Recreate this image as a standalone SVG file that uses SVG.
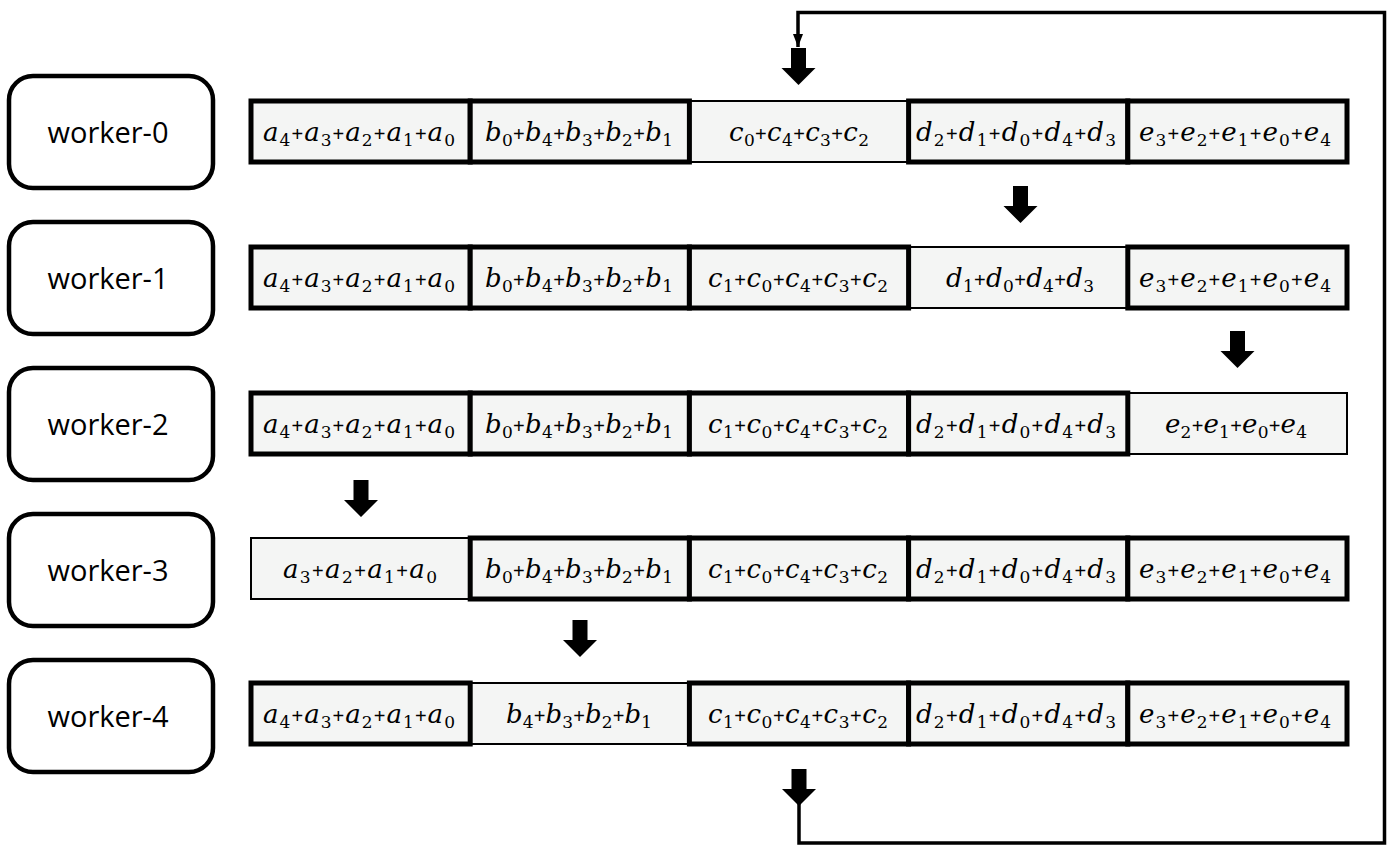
<svg xmlns="http://www.w3.org/2000/svg" xmlns:xlink="http://www.w3.org/1999/xlink" width="1392" height="850" viewBox="0 0 1392 850">
<style>
.wbox{fill:#fff;stroke:#000;stroke-width:4.5}
.wlab{font-family:"Open Sans","Noto Sans",sans-serif;font-size:29px;fill:#000;text-anchor:middle}
.ck{fill:#f4f5f4;stroke:#000;stroke-width:5}
.cn{fill:#f4f5f4;stroke:#000;stroke-width:2}
.m{font-family:"DejaVu Serif","Liberation Serif",serif;font-style:italic;font-size:26px;fill:#000;text-anchor:middle}
.s{font-style:normal;font-size:17px}
.p{font-family:"Liberation Sans",sans-serif;font-style:normal;font-size:20px}
.blk{fill:#000}
.loop{fill:none;stroke:#000;stroke-width:3.5}
</style>
<defs>
<path id="barrow" d="M-7.5,-37 H7.5 V-17 H17 L0,0 L-17,-17 H-7.5 Z"/>
<marker id="tri" markerUnits="userSpaceOnUse" markerWidth="14" markerHeight="10" refX="13" refY="5" orient="auto">
<path d="M0,0 L13,5 L0,10 Z" fill="#000"/>
</marker>
</defs>

<g id="worker-0"><rect class="wbox" x="9" y="76" width="204" height="112" rx="24"/><text class="wlab" x="108" y="143">worker-0</text></g>
<g id="worker-1"><rect class="wbox" x="9" y="222" width="204" height="112" rx="24"/><text class="wlab" x="108" y="289">worker-1</text></g>
<g id="worker-2"><rect class="wbox" x="9" y="368" width="204" height="112" rx="24"/><text class="wlab" x="108" y="435">worker-2</text></g>
<g id="worker-3"><rect class="wbox" x="9" y="514" width="204" height="112" rx="24"/><text class="wlab" x="108" y="581">worker-3</text></g>
<g id="worker-4"><rect class="wbox" x="9" y="660" width="204" height="112" rx="24"/><text class="wlab" x="108" y="727">worker-4</text></g>

<!-- Row 0 -->
<g id="row-0">
<g id="r0-c"><rect class="cn" x="689.4" y="101" width="219.2" height="61"/>
<text class="m" x="799" y="141" textLength="140" lengthAdjust="spacing">c<tspan class="s" dy="5">0</tspan><tspan class="p" dy="-5">+</tspan>c<tspan class="s" dy="5">4</tspan><tspan class="p" dy="-5">+</tspan>c<tspan class="s" dy="5">3</tspan><tspan class="p" dy="-5">+</tspan>c<tspan class="s" dy="5">2</tspan></text></g>
<g id="r0-a"><rect class="ck" x="251" y="101" width="219.2" height="61"/>
<text class="m" x="359" y="141" textLength="192" lengthAdjust="spacing">a<tspan class="s" dy="5">4</tspan><tspan class="p" dy="-5">+</tspan>a<tspan class="s" dy="5">3</tspan><tspan class="p" dy="-5">+</tspan>a<tspan class="s" dy="5">2</tspan><tspan class="p" dy="-5">+</tspan>a<tspan class="s" dy="5">1</tspan><tspan class="p" dy="-5">+</tspan>a<tspan class="s" dy="5">0</tspan></text></g>
<g id="r0-b"><rect class="ck" x="470.2" y="101" width="219.2" height="61"/>
<text class="m" x="579" y="141" textLength="188" lengthAdjust="spacing">b<tspan class="s" dy="5">0</tspan><tspan class="p" dy="-5">+</tspan>b<tspan class="s" dy="5">4</tspan><tspan class="p" dy="-5">+</tspan>b<tspan class="s" dy="5">3</tspan><tspan class="p" dy="-5">+</tspan>b<tspan class="s" dy="5">2</tspan><tspan class="p" dy="-5">+</tspan>b<tspan class="s" dy="5">1</tspan></text></g>
<g id="r0-d"><rect class="ck" x="908.6" y="101" width="219.2" height="61"/>
<text class="m" x="1016" y="141" textLength="200" lengthAdjust="spacing">d<tspan class="s" dy="5">2</tspan><tspan class="p" dy="-5">+</tspan>d<tspan class="s" dy="5">1</tspan><tspan class="p" dy="-5">+</tspan>d<tspan class="s" dy="5">0</tspan><tspan class="p" dy="-5">+</tspan>d<tspan class="s" dy="5">4</tspan><tspan class="p" dy="-5">+</tspan>d<tspan class="s" dy="5">3</tspan></text></g>
<g id="r0-e"><rect class="ck" x="1127.8" y="101" width="219.2" height="61"/>
<text class="m" x="1235" y="141" textLength="192" lengthAdjust="spacing">e<tspan class="s" dy="5">3</tspan><tspan class="p" dy="-5">+</tspan>e<tspan class="s" dy="5">2</tspan><tspan class="p" dy="-5">+</tspan>e<tspan class="s" dy="5">1</tspan><tspan class="p" dy="-5">+</tspan>e<tspan class="s" dy="5">0</tspan><tspan class="p" dy="-5">+</tspan>e<tspan class="s" dy="5">4</tspan></text></g>
</g>

<!-- Row 1 -->
<g id="row-1">
<g id="r1-d"><rect class="cn" x="908.6" y="247" width="219.2" height="61"/>
<text class="m" x="1020" y="287" textLength="148" lengthAdjust="spacing">d<tspan class="s" dy="5">1</tspan><tspan class="p" dy="-5">+</tspan>d<tspan class="s" dy="5">0</tspan><tspan class="p" dy="-5">+</tspan>d<tspan class="s" dy="5">4</tspan><tspan class="p" dy="-5">+</tspan>d<tspan class="s" dy="5">3</tspan></text></g>
<g id="r1-a"><rect class="ck" x="251" y="247" width="219.2" height="61"/>
<text class="m" x="359" y="287" textLength="192" lengthAdjust="spacing">a<tspan class="s" dy="5">4</tspan><tspan class="p" dy="-5">+</tspan>a<tspan class="s" dy="5">3</tspan><tspan class="p" dy="-5">+</tspan>a<tspan class="s" dy="5">2</tspan><tspan class="p" dy="-5">+</tspan>a<tspan class="s" dy="5">1</tspan><tspan class="p" dy="-5">+</tspan>a<tspan class="s" dy="5">0</tspan></text></g>
<g id="r1-b"><rect class="ck" x="470.2" y="247" width="219.2" height="61"/>
<text class="m" x="579" y="287" textLength="188" lengthAdjust="spacing">b<tspan class="s" dy="5">0</tspan><tspan class="p" dy="-5">+</tspan>b<tspan class="s" dy="5">4</tspan><tspan class="p" dy="-5">+</tspan>b<tspan class="s" dy="5">3</tspan><tspan class="p" dy="-5">+</tspan>b<tspan class="s" dy="5">2</tspan><tspan class="p" dy="-5">+</tspan>b<tspan class="s" dy="5">1</tspan></text></g>
<g id="r1-c"><rect class="ck" x="689.4" y="247" width="219.2" height="61"/>
<text class="m" x="798" y="287" textLength="180" lengthAdjust="spacing">c<tspan class="s" dy="5">1</tspan><tspan class="p" dy="-5">+</tspan>c<tspan class="s" dy="5">0</tspan><tspan class="p" dy="-5">+</tspan>c<tspan class="s" dy="5">4</tspan><tspan class="p" dy="-5">+</tspan>c<tspan class="s" dy="5">3</tspan><tspan class="p" dy="-5">+</tspan>c<tspan class="s" dy="5">2</tspan></text></g>
<g id="r1-e"><rect class="ck" x="1127.8" y="247" width="219.2" height="61"/>
<text class="m" x="1235" y="287" textLength="192" lengthAdjust="spacing">e<tspan class="s" dy="5">3</tspan><tspan class="p" dy="-5">+</tspan>e<tspan class="s" dy="5">2</tspan><tspan class="p" dy="-5">+</tspan>e<tspan class="s" dy="5">1</tspan><tspan class="p" dy="-5">+</tspan>e<tspan class="s" dy="5">0</tspan><tspan class="p" dy="-5">+</tspan>e<tspan class="s" dy="5">4</tspan></text></g>
</g>

<!-- Row 2 -->
<g id="row-2">
<g id="r2-e"><rect class="cn" x="1127.8" y="393" width="219.2" height="61"/>
<text class="m" x="1236" y="433" textLength="142" lengthAdjust="spacing">e<tspan class="s" dy="5">2</tspan><tspan class="p" dy="-5">+</tspan>e<tspan class="s" dy="5">1</tspan><tspan class="p" dy="-5">+</tspan>e<tspan class="s" dy="5">0</tspan><tspan class="p" dy="-5">+</tspan>e<tspan class="s" dy="5">4</tspan></text></g>
<g id="r2-a"><rect class="ck" x="251" y="393" width="219.2" height="61"/>
<text class="m" x="359" y="433" textLength="192" lengthAdjust="spacing">a<tspan class="s" dy="5">4</tspan><tspan class="p" dy="-5">+</tspan>a<tspan class="s" dy="5">3</tspan><tspan class="p" dy="-5">+</tspan>a<tspan class="s" dy="5">2</tspan><tspan class="p" dy="-5">+</tspan>a<tspan class="s" dy="5">1</tspan><tspan class="p" dy="-5">+</tspan>a<tspan class="s" dy="5">0</tspan></text></g>
<g id="r2-b"><rect class="ck" x="470.2" y="393" width="219.2" height="61"/>
<text class="m" x="579" y="433" textLength="188" lengthAdjust="spacing">b<tspan class="s" dy="5">0</tspan><tspan class="p" dy="-5">+</tspan>b<tspan class="s" dy="5">4</tspan><tspan class="p" dy="-5">+</tspan>b<tspan class="s" dy="5">3</tspan><tspan class="p" dy="-5">+</tspan>b<tspan class="s" dy="5">2</tspan><tspan class="p" dy="-5">+</tspan>b<tspan class="s" dy="5">1</tspan></text></g>
<g id="r2-c"><rect class="ck" x="689.4" y="393" width="219.2" height="61"/>
<text class="m" x="798" y="433" textLength="180" lengthAdjust="spacing">c<tspan class="s" dy="5">1</tspan><tspan class="p" dy="-5">+</tspan>c<tspan class="s" dy="5">0</tspan><tspan class="p" dy="-5">+</tspan>c<tspan class="s" dy="5">4</tspan><tspan class="p" dy="-5">+</tspan>c<tspan class="s" dy="5">3</tspan><tspan class="p" dy="-5">+</tspan>c<tspan class="s" dy="5">2</tspan></text></g>
<g id="r2-d"><rect class="ck" x="908.6" y="393" width="219.2" height="61"/>
<text class="m" x="1016" y="433" textLength="200" lengthAdjust="spacing">d<tspan class="s" dy="5">2</tspan><tspan class="p" dy="-5">+</tspan>d<tspan class="s" dy="5">1</tspan><tspan class="p" dy="-5">+</tspan>d<tspan class="s" dy="5">0</tspan><tspan class="p" dy="-5">+</tspan>d<tspan class="s" dy="5">4</tspan><tspan class="p" dy="-5">+</tspan>d<tspan class="s" dy="5">3</tspan></text></g>
</g>

<!-- Row 3 -->
<g id="row-3">
<g id="r3-a"><rect class="cn" x="251" y="538" width="219.2" height="61"/>
<text class="m" x="360" y="578" textLength="154" lengthAdjust="spacing">a<tspan class="s" dy="5">3</tspan><tspan class="p" dy="-5">+</tspan>a<tspan class="s" dy="5">2</tspan><tspan class="p" dy="-5">+</tspan>a<tspan class="s" dy="5">1</tspan><tspan class="p" dy="-5">+</tspan>a<tspan class="s" dy="5">0</tspan></text></g>
<g id="r3-b"><rect class="ck" x="470.2" y="538" width="219.2" height="61"/>
<text class="m" x="579" y="578" textLength="188" lengthAdjust="spacing">b<tspan class="s" dy="5">0</tspan><tspan class="p" dy="-5">+</tspan>b<tspan class="s" dy="5">4</tspan><tspan class="p" dy="-5">+</tspan>b<tspan class="s" dy="5">3</tspan><tspan class="p" dy="-5">+</tspan>b<tspan class="s" dy="5">2</tspan><tspan class="p" dy="-5">+</tspan>b<tspan class="s" dy="5">1</tspan></text></g>
<g id="r3-c"><rect class="ck" x="689.4" y="538" width="219.2" height="61"/>
<text class="m" x="798" y="578" textLength="180" lengthAdjust="spacing">c<tspan class="s" dy="5">1</tspan><tspan class="p" dy="-5">+</tspan>c<tspan class="s" dy="5">0</tspan><tspan class="p" dy="-5">+</tspan>c<tspan class="s" dy="5">4</tspan><tspan class="p" dy="-5">+</tspan>c<tspan class="s" dy="5">3</tspan><tspan class="p" dy="-5">+</tspan>c<tspan class="s" dy="5">2</tspan></text></g>
<g id="r3-d"><rect class="ck" x="908.6" y="538" width="219.2" height="61"/>
<text class="m" x="1016" y="578" textLength="200" lengthAdjust="spacing">d<tspan class="s" dy="5">2</tspan><tspan class="p" dy="-5">+</tspan>d<tspan class="s" dy="5">1</tspan><tspan class="p" dy="-5">+</tspan>d<tspan class="s" dy="5">0</tspan><tspan class="p" dy="-5">+</tspan>d<tspan class="s" dy="5">4</tspan><tspan class="p" dy="-5">+</tspan>d<tspan class="s" dy="5">3</tspan></text></g>
<g id="r3-e"><rect class="ck" x="1127.8" y="538" width="219.2" height="61"/>
<text class="m" x="1235" y="578" textLength="192" lengthAdjust="spacing">e<tspan class="s" dy="5">3</tspan><tspan class="p" dy="-5">+</tspan>e<tspan class="s" dy="5">2</tspan><tspan class="p" dy="-5">+</tspan>e<tspan class="s" dy="5">1</tspan><tspan class="p" dy="-5">+</tspan>e<tspan class="s" dy="5">0</tspan><tspan class="p" dy="-5">+</tspan>e<tspan class="s" dy="5">4</tspan></text></g>
</g>

<!-- Row 4 -->
<g id="row-4">
<g id="r4-b"><rect class="cn" x="470.2" y="683" width="219.2" height="61"/>
<text class="m" x="579" y="723" textLength="146" lengthAdjust="spacing">b<tspan class="s" dy="5">4</tspan><tspan class="p" dy="-5">+</tspan>b<tspan class="s" dy="5">3</tspan><tspan class="p" dy="-5">+</tspan>b<tspan class="s" dy="5">2</tspan><tspan class="p" dy="-5">+</tspan>b<tspan class="s" dy="5">1</tspan></text></g>
<g id="r4-a"><rect class="ck" x="251" y="683" width="219.2" height="61"/>
<text class="m" x="359" y="723" textLength="192" lengthAdjust="spacing">a<tspan class="s" dy="5">4</tspan><tspan class="p" dy="-5">+</tspan>a<tspan class="s" dy="5">3</tspan><tspan class="p" dy="-5">+</tspan>a<tspan class="s" dy="5">2</tspan><tspan class="p" dy="-5">+</tspan>a<tspan class="s" dy="5">1</tspan><tspan class="p" dy="-5">+</tspan>a<tspan class="s" dy="5">0</tspan></text></g>
<g id="r4-c"><rect class="ck" x="689.4" y="683" width="219.2" height="61"/>
<text class="m" x="798" y="723" textLength="180" lengthAdjust="spacing">c<tspan class="s" dy="5">1</tspan><tspan class="p" dy="-5">+</tspan>c<tspan class="s" dy="5">0</tspan><tspan class="p" dy="-5">+</tspan>c<tspan class="s" dy="5">4</tspan><tspan class="p" dy="-5">+</tspan>c<tspan class="s" dy="5">3</tspan><tspan class="p" dy="-5">+</tspan>c<tspan class="s" dy="5">2</tspan></text></g>
<g id="r4-d"><rect class="ck" x="908.6" y="683" width="219.2" height="61"/>
<text class="m" x="1016" y="723" textLength="200" lengthAdjust="spacing">d<tspan class="s" dy="5">2</tspan><tspan class="p" dy="-5">+</tspan>d<tspan class="s" dy="5">1</tspan><tspan class="p" dy="-5">+</tspan>d<tspan class="s" dy="5">0</tspan><tspan class="p" dy="-5">+</tspan>d<tspan class="s" dy="5">4</tspan><tspan class="p" dy="-5">+</tspan>d<tspan class="s" dy="5">3</tspan></text></g>
<g id="r4-e"><rect class="ck" x="1127.8" y="683" width="219.2" height="61"/>
<text class="m" x="1235" y="723" textLength="192" lengthAdjust="spacing">e<tspan class="s" dy="5">3</tspan><tspan class="p" dy="-5">+</tspan>e<tspan class="s" dy="5">2</tspan><tspan class="p" dy="-5">+</tspan>e<tspan class="s" dy="5">1</tspan><tspan class="p" dy="-5">+</tspan>e<tspan class="s" dy="5">0</tspan><tspan class="p" dy="-5">+</tspan>e<tspan class="s" dy="5">4</tspan></text></g>
</g>

<g id="connectors">
<path class="loop" d="M799,803 V843 H1384.5 V12.5 H798 V47" marker-end="url(#tri)"/>
<use href="#barrow" xlink:href="#barrow" class="blk" x="798.5" y="85"/>
<use href="#barrow" xlink:href="#barrow" class="blk" x="1020.5" y="223"/>
<use href="#barrow" xlink:href="#barrow" class="blk" x="1237.5" y="368"/>
<use href="#barrow" xlink:href="#barrow" class="blk" x="361" y="517"/>
<use href="#barrow" xlink:href="#barrow" class="blk" x="580" y="657"/>
<use href="#barrow" xlink:href="#barrow" class="blk" x="799" y="806"/>
</g>
</svg>
